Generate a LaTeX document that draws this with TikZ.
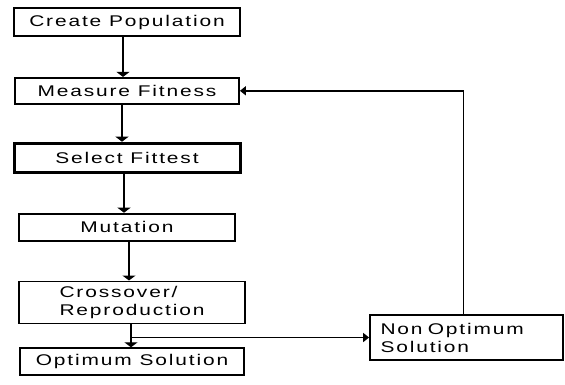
\documentclass[tikz,border=0pt]{standalone}
\usepackage{fontspec}
\setmainfont{Liberation Sans}[FakeStretch=1.35, LetterSpace=12]
\usepackage{tikz}
\usetikzlibrary{positioning, arrows.meta}

\begin{document}
\begin{tikzpicture}[
    x=1pt, y=1pt,
    stepbox/.style={rectangle, draw, line width=1.8pt, minimum width=224pt,
                    minimum height=27pt, inner sep=0pt, align=center,
                    font=\fontsize{15.5}{18}\selectfont},
    arrow/.style={-{Triangle[length=5pt, width=13pt]}, line width=2.3pt},
    loop/.style={-{Triangle[length=6pt, width=9pt]}, line width=1.8pt},
  ]
    \useasboundingbox (0,0) rectangle (565,-385);

    % main column
    \node[stepbox, minimum width=226pt, minimum height=28pt] (CP) at (127,-22) {Create Population};
    \node[stepbox, below=40pt of CP, minimum height=26pt] (MF) {Measure Fitness};
    \node[stepbox, below=37pt of MF, minimum width=226pt, minimum height=29pt,
          line width=3pt] (SF) {Select Fittest};
    \node[stepbox, minimum width=216pt, below=39pt of SF] (MU) {Mutation};
    \node[stepbox, minimum width=226pt, minimum height=42pt, align=left,
          below=39pt of MU, xshift=5pt] (CR) {Crossover/\\Reproduction};
    \node[stepbox, below=23pt of CR] (OS) {Optimum Solution};

    % side box
    \node[stepbox, minimum width=193pt, minimum height=45pt, align=left,
          text width=172pt] (NO) at (466.5,-337.5) {Non Optimum\\Solution};

    \draw[arrow] ([xshift=-4pt]CP.south) -- ([xshift=-4pt]CP.south |- MF.north);
    \draw[arrow] ([xshift=-5pt]MF.south) -- ([xshift=-5pt]MF.south |- SF.north);
    \draw[arrow] ([xshift=-3pt]SF.south) -- ([xshift=-3pt]SF.south |- MU.north);
    \draw[arrow] ([xshift=2pt]MU.south) -- ([xshift=2pt]MU.south |- CR.north);
    \draw[arrow] ([xshift=-1pt]CR.south) -- ([xshift=-1pt]CR.south |- OS.north);

    % feedback
    \draw[loop] ([xshift=-1pt]CR.south |- NO.west) -- (NO.west);
    \draw[loop] ([xshift=-3pt]NO.north) |- (MF.east);
  \end{tikzpicture}
\end{document}
